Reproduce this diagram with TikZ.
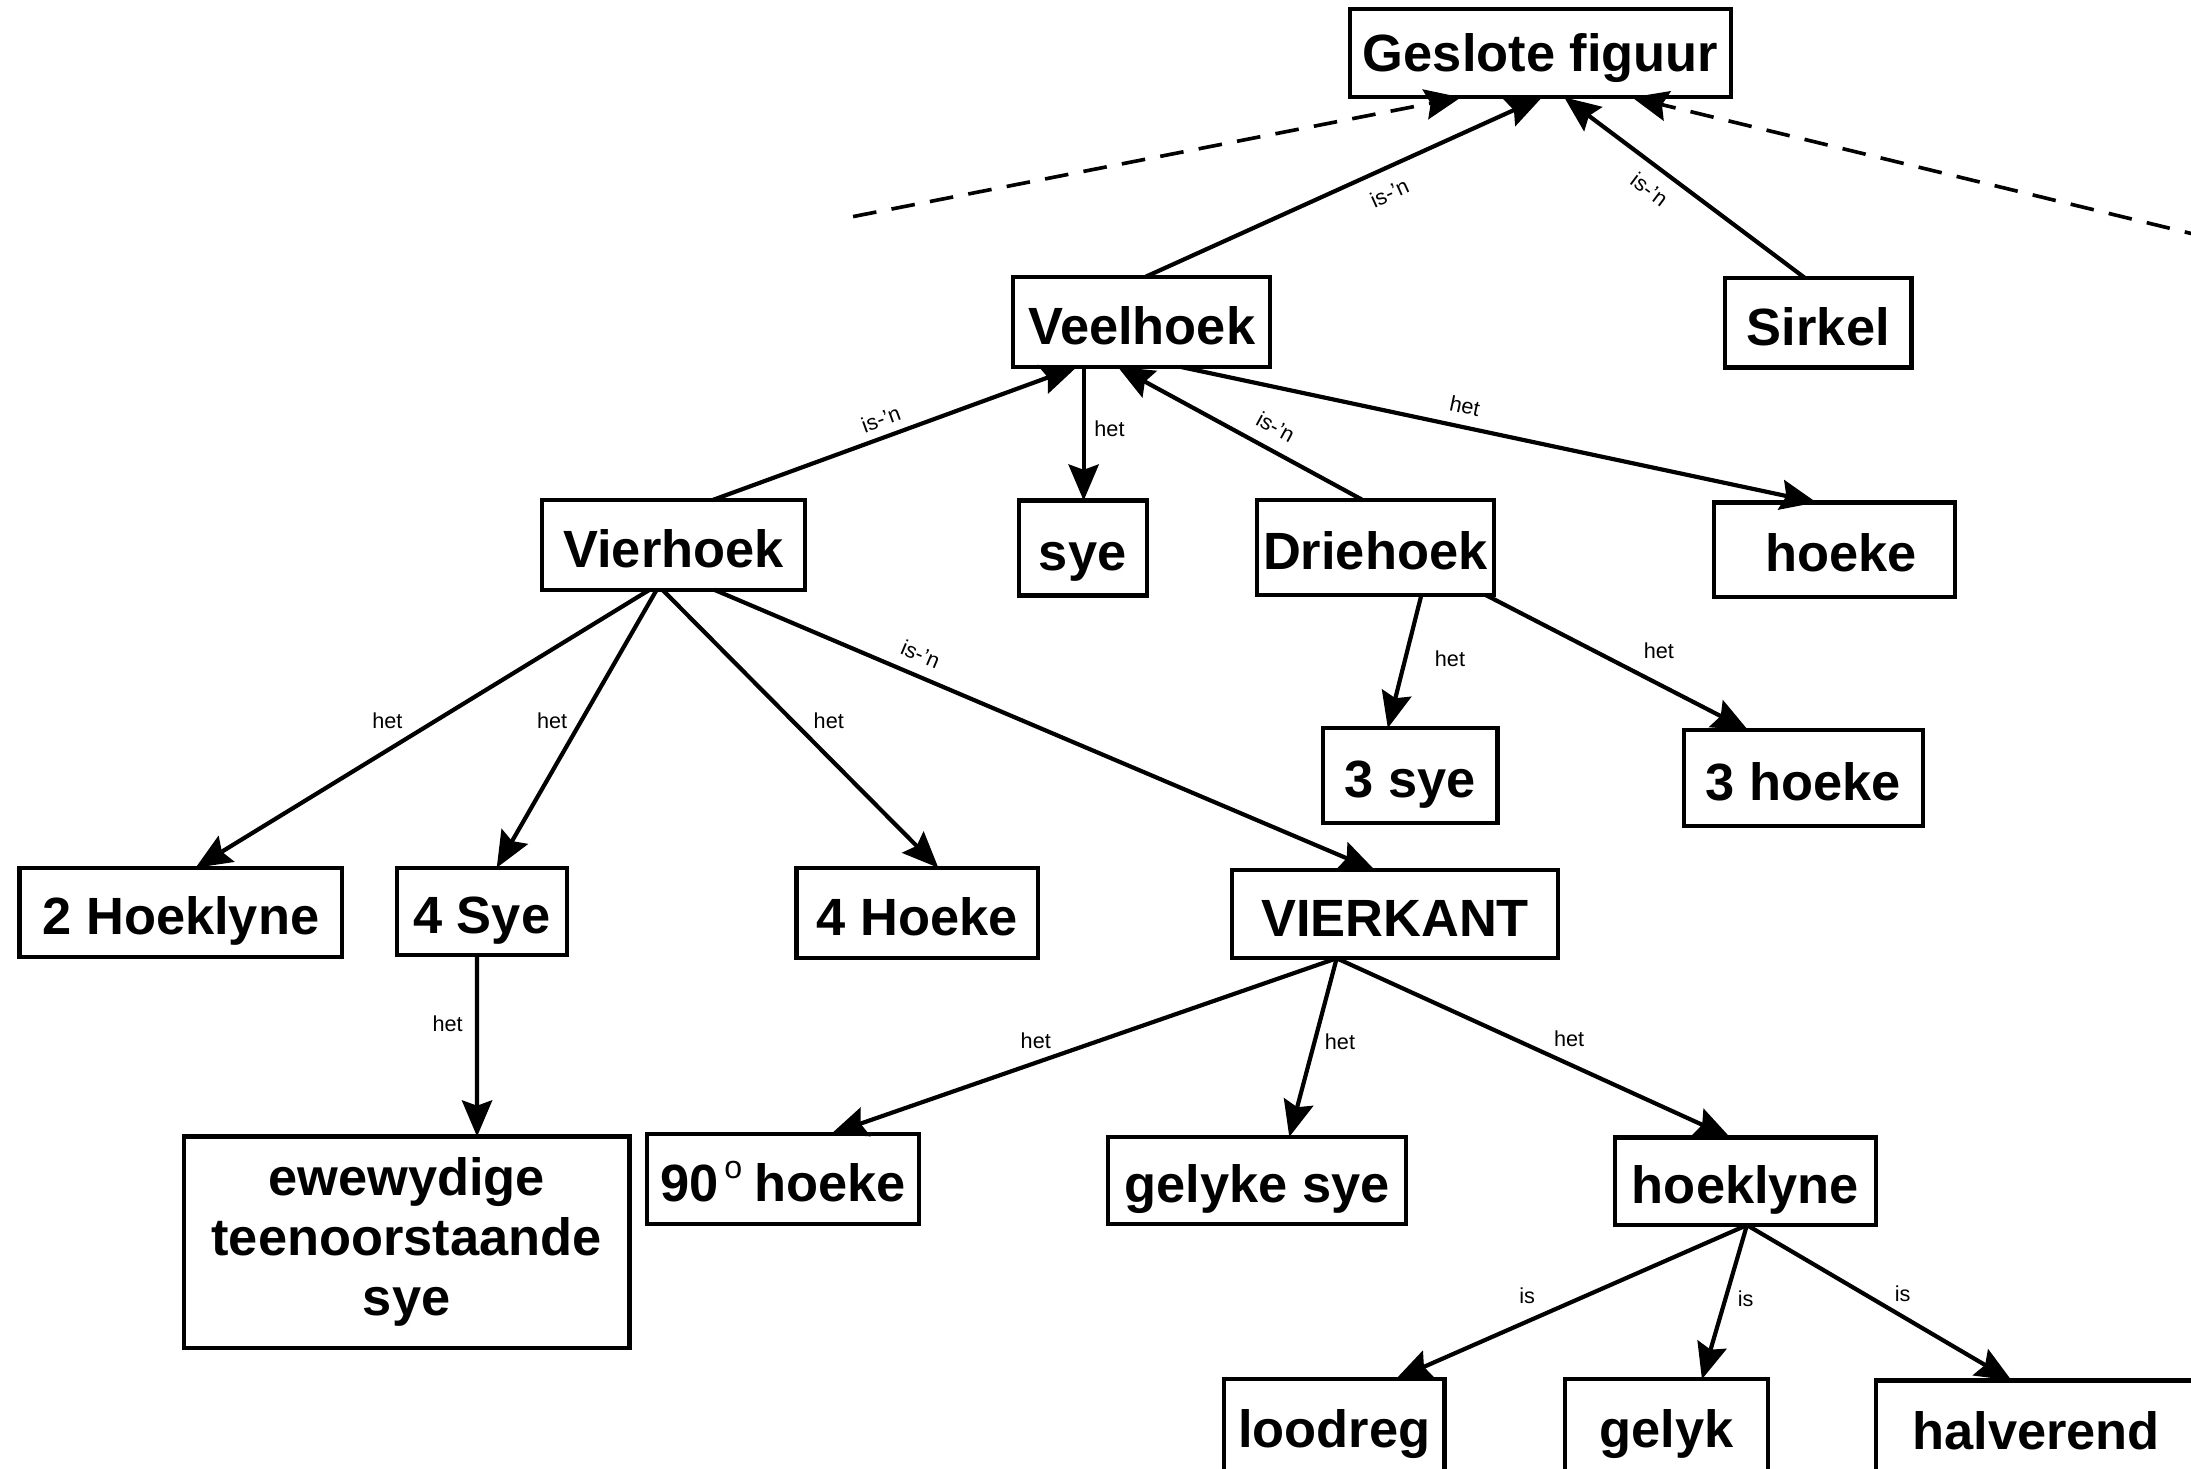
\documentclass[tikz,border=0pt]{standalone}
\usepackage{fontspec}
\setmainfont{Liberation Sans}
\usetikzlibrary{arrows.meta}
\newcommand\nodetextfont{\fontsize{37.5}{43}\selectfont\bfseries}
\newcommand\edgelabelfont{\fontsize{15.5}{18}\selectfont}
% raised degree-like "o" after a number
\newcommand\dego{\hspace*{4pt}\raisebox{16pt}{\fontsize{23}{23}\selectfont\mdseries o}\hspace*{-2pt}}
\tikzset{
  boxbase/.style={draw, line width=3pt, inner sep=0pt, outer sep=0pt,
    font=\nodetextfont, align=center},
  box/.style={boxbase, text height=32pt, text depth=0pt},
  conn/.style={line width=3pt,
    -{Stealth[length=26pt,width=22pt,inset=4pt,line width=1pt]}},
  dashconn/.style={conn, line width=2.6pt, dash pattern=on 17pt off 11pt},
  lbl/.style={font=\edgelabelfont, inner sep=0pt},
}
\begin{document}
\begin{tikzpicture}[x=1pt,y=-1pt]
\useasboundingbox (0,0) rectangle (1568,1051);
\clip (0,0) rectangle (1568,1051);

% concept boxes
\node[box, minimum width=273pt, minimum height=63pt, text height=26pt] (gf) at (1102.5,38.2) {Geslote figuur};
\node[box, minimum width=184pt, minimum height=64.6pt] (veel) at (817,230.3) {Veelhoek};
\node[box, minimum width=133.4pt, minimum height=64pt] (sirkel) at (1301.3,231) {Sirkel};
\node[box, minimum width=188pt, minimum height=64pt] (vier) at (482,390) {Vierhoek};
\node[box, minimum width=91.6pt, minimum height=68pt] (sye) at (774.8,392.2) {sye};
\node[box, minimum width=169.6pt, minimum height=67.8pt] (drie) at (984.2,391.9) {Driehoek};
\node[box, minimum width=172.3pt, minimum height=67.5pt] (hoeke) at (1312.9,393.3) {\hspace*{9pt}hoeke};
\node[box, minimum width=125pt, minimum height=67.8pt] (sye3) at (1009.2,554.9) {3 sye};
\node[box, minimum width=171pt, minimum height=68.5pt] (hoeke3) at (1290.5,556.8) {3 hoeke};
\node[box, minimum width=231pt, minimum height=64pt] (hk2) at (129.5,653) {2 Hoeklyne};
\node[box, minimum width=121.6pt, minimum height=62.6pt] (sye4) at (344.8,652.3) {4 Sye};
\node[box, minimum width=173pt, minimum height=64.8pt] (hoeke4) at (656.5,653.4) {4 Hoeke};
\node[box, minimum width=233.2pt, minimum height=63pt] (vk) at (998.4,654.3) {VIERKANT};
\node[boxbase, minimum width=319pt, minimum height=151.4pt] (ewe) at (291,889) {ewewydige\\teenoorstaande\\sye};
\node[box, minimum width=194.7pt, minimum height=64.7pt] (h90) at (560.4,843.7) {90\dego{} hoeke};
\node[box, minimum width=213.4pt, minimum height=62.6pt] (gs) at (899.7,844.9) {gelyke sye};
\node[box, minimum width=186.8pt, minimum height=62.7pt] (hkl) at (1249.2,845.4) {hoeklyne};
\node[box, minimum width=157.8pt, minimum height=66pt] (lood) at (954.9,1020) {loodreg};
\node[box, minimum width=145pt, minimum height=66pt] (gelyk) at (1192.5,1020) {gelyk};
\node[box, minimum width=260pt, minimum height=66pt] (halv) at (1472.6,1021) {halverend\hspace*{31pt}};

% loose ends of the dashed links
\coordinate (dl) at (610.5,155);
\coordinate (dr) at (1580,170);

% links into "Geslote figuur"
\draw[conn] ([xshift=3pt]veel.north) -- node[lbl, pos=.59, sloped, below=10pt] {is-'n} ([xshift=1pt]gf.south);
\draw[conn] ([xshift=-9.5pt]sirkel.north) -- node[lbl, pos=.59, sloped, below=9pt] {is-'n} ([xshift=17pt]gf.south);
\draw[dashconn] (dl) -- ([xshift=-57pt]gf.south);
\draw[dashconn] (dr) -- ([xshift=65.5pt]gf.south);

% links around "Veelhoek"
\draw[conn] ([xshift=27.6pt]vier.north) -- node[lbl, pos=.48, sloped, above=6pt] {is-'n} ([xshift=-46.4pt]veel.south);
\draw[conn] ([xshift=-41.5pt]veel.south) -- node[lbl, pos=.46, xshift=18.5pt] {het} ([xshift=0.7pt]sye.north);
\draw[conn] ([xshift=-8.7pt]drie.north) -- node[lbl, pos=.40, sloped, above=9pt] {is-'n} ([xshift=-17pt]veel.south);
\draw[conn] ([xshift=28pt]veel.south) -- node[lbl, pos=.44, sloped, above=8pt] {het} ([xshift=-13pt]hoeke.north);

% links from "Driehoek"
\draw[conn] ([xshift=33pt]drie.south) -- node[lbl, pos=.48, xshift=32pt] {het} ([xshift=-16pt]sye3.north);
\draw[conn] ([xshift=79pt]drie.south) -- node[lbl, pos=.41, xshift=47pt] {het} ([xshift=-39.5pt]hoeke3.north);

% links from "Vierhoek"
\draw[conn] ([xshift=-17pt]vier.south) -- node[lbl, pos=.47, xshift=-35pt] {het} ([xshift=10.5pt]hk2.north);
\draw[conn] ([xshift=-12pt]vier.south) -- node[lbl, pos=.47, xshift=-21pt] {het} ([xshift=10.7pt]sye4.north);
\draw[conn] ([xshift=-8pt]vier.south) -- node[lbl, pos=.47, xshift=26.3pt] {het} ([xshift=15pt]hoeke4.north);
\draw[conn] ([xshift=29pt]vier.south) -- node[lbl, pos=.30, sloped, above=8pt] {is-'n} ([xshift=-14.4pt]vk.north);

% link from "4 Sye"
\draw[conn] ([xshift=-3.4pt]sye4.south) -- node[lbl, pos=.38, xshift=-21pt] {het} ([xshift=50.4pt]ewe.north);

% links from "VIERKANT"
\draw[conn] ([xshift=-41.8pt]vk.south) -- node[lbl, pos=.47, xshift=-45.4pt] {het} ([xshift=34.6pt]h90.north);
\draw[conn] ([xshift=-41.8pt]vk.south) -- node[lbl, pos=.47, xshift=18.3pt] {het} ([xshift=23pt]gs.north);
\draw[conn] ([xshift=-41.8pt]vk.south) -- node[lbl, pos=.45, xshift=39.6pt] {het} ([xshift=-11pt]hkl.north);

% links from "hoeklyne"
\draw[conn] ([xshift=1pt]hkl.south) -- node[lbl, pos=.46, xshift=-41.7pt] {is} ([xshift=44pt]lood.north);
\draw[conn] ([xshift=1pt]hkl.south) -- node[lbl, pos=.48, xshift=14.6pt] {is} ([xshift=25.5pt]gelyk.north);
\draw[conn] ([xshift=1pt]hkl.south) -- node[lbl, pos=.44, xshift=28.1pt] {is} ([xshift=-33pt]halv.north);
\end{tikzpicture}
\end{document}
